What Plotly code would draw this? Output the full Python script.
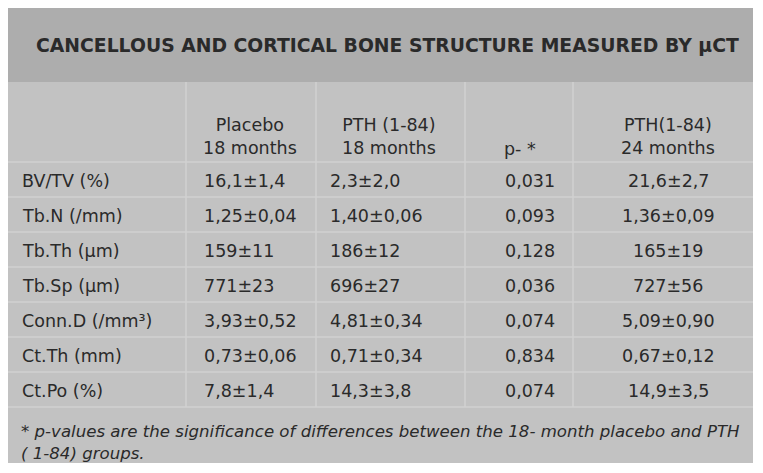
import plotly.graph_objects as go

# ---- data ----
title = "CANCELLOUS AND CORTICAL BONE STRUCTURE MEASURED BY µCT"
col_headers = ["", "Placebo<br>18 months", "PTH (1-84)<br>18 months", "p- *", "PTH(1-84)<br>24 months"]
row_labels = ["BV/TV (%)", "Tb.N (/mm)", "Tb.Th (µm)", "Tb.Sp (µm)", "Conn.D (/mm³)", "Ct.Th (mm)", "Ct.Po (%)"]
placebo_18 = ["16,1±1,4", "1,25±0,04", "159±11", "771±23", "3,93±0,52", "0,73±0,06", "7,8±1,4"]
pth_18 = ["2,3±2,0", "1,40±0,06", "186±12", "696±27", "4,81±0,34", "0,71±0,34", "14,3±3,8"]
p_values = ["0,031", "0,093", "0,128", "0,036", "0,074", "0,834", "0,074"]
pth_24 = ["21,6±2,7", "1,36±0,09", "165±19", "727±56", "5,09±0,90", "0,67±0,12", "14,9±3,5"]
footnote = ("* p-values are the significance of differences between the 18- month placebo and PTH<br>"
            "( 1-84) groups.")

# ---- layout geometry (page pixels) ----
W, H = 763, 473
OFF = 8  # default page body margin
box_l, box_r, box_t, box_b = 8, 753, 8, 463
title_b = 82
head_b = 162
row_h = 35
col_edges = [box_l, 186, 316, 465, 573, box_r]
TXT = "#2a2a2a"
FONT = "DejaVu Sans, Verdana, sans-serif"
BODY = 17.5

fig = go.Figure()
fig.add_trace(go.Scatter(x=[OFF, W], y=[OFF, H], mode="markers", marker=dict(opacity=0),
                         hoverinfo="skip", showlegend=False))

shapes = []
shapes.append(dict(type="rect", x0=box_l, x1=box_r, y0=box_t, y1=box_b, fillcolor="#c2c2c2",
                   line=dict(width=0), layer="below"))
shapes.append(dict(type="rect", x0=box_l, x1=box_r, y0=box_t, y1=title_b, fillcolor="#adadad",
                   line=dict(width=0), layer="below"))
n = len(row_labels)
table_b = head_b + n * row_h
for yy in [head_b + i * row_h for i in range(n + 1)]:
    shapes.append(dict(type="line", x0=box_l, x1=box_r, y0=yy, y1=yy, line=dict(color="#d0d0d0", width=1.5)))
for xx in col_edges[1:-1]:
    shapes.append(dict(type="line", x0=xx, x1=xx, y0=title_b, y1=table_b, line=dict(color="#d0d0d0", width=1.5)))

ann = []
ann.append(dict(x=387, y=45, text="<b>" + title + "</b>", showarrow=False,
                xanchor="center", yanchor="middle", font=dict(family=FONT, size=18.8, color=TXT)))
head_x = [None, 250, 389, 520, 668]
for j in range(1, 5):
    two = "<br>" in col_headers[j]
    ann.append(dict(x=head_x[j], y=136 if two else 149, text=col_headers[j], showarrow=False,
                    xanchor="center", yanchor="middle", align="center",
                    font=dict(family=FONT, size=BODY, color=TXT)))
columns = [row_labels, placebo_18, pth_18, p_values, pth_24]
col_x = [20, 202, 328, 503, 668]
col_anchor = ["left", "left", "left", "left", "center"]
for j, col in enumerate(columns):
    for i, txt in enumerate(col):
        ann.append(dict(x=col_x[j], y=head_b + i * row_h + row_h / 2 + 1, text=txt, showarrow=False,
                        xanchor=col_anchor[j], yanchor="middle", font=dict(family=FONT, size=BODY, color=TXT)))
ann.append(dict(x=19, y=442, text="<i>" + footnote + "</i>", showarrow=False, xanchor="left", yanchor="middle",
                align="left", font=dict(family=FONT, size=16.6, color=TXT)))

fig.update_layout(
    width=W - OFF, height=H - OFF, margin=dict(l=0, r=0, t=0, b=0),
    paper_bgcolor="white", plot_bgcolor="white",
    xaxis=dict(range=[OFF, W], visible=False, fixedrange=True),
    yaxis=dict(range=[H, OFF], visible=False, fixedrange=True),
    shapes=shapes, annotations=ann,
)
fig.write_html("out.html", config={"displayModeBar": False})
